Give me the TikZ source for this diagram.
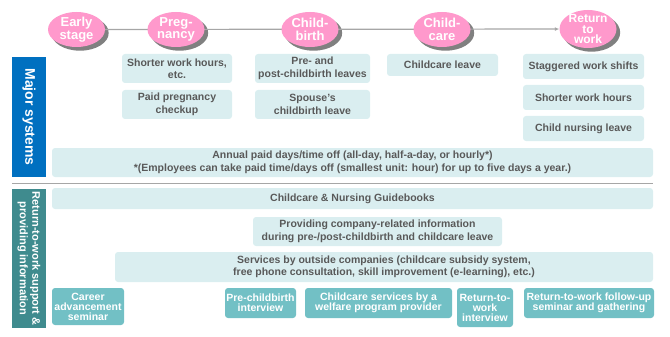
\documentclass[tikz,border=0pt]{standalone}
\usepackage{fontspec}
\setmainfont{Liberation Sans}
\usetikzlibrary{arrows.meta,backgrounds,calc,shapes.geometric}
\definecolor{stagepink}{HTML}{FF99CC}
\definecolor{lightbox}{HTML}{DAEEF0}
\definecolor{darkbox}{HTML}{72C0C5}
\definecolor{majorblue}{HTML}{0070C0}
\definecolor{supportteal}{HTML}{3F8B8E}
\definecolor{textgray}{HTML}{595959}
\definecolor{linegray}{HTML}{A6A6A6}
\definecolor{shadowgray}{HTML}{808080}

\begin{document}
\begin{tikzpicture}[x=1pt, y=-1pt,
    stage/.style={ellipse, fill=stagepink, text=white, inner sep=-3pt, minimum width=57pt, minimum height=35pt, align=center,
        font=\fontsize{13}{12.5}\selectfont\bfseries},
    sysbox/.style={fill=lightbox, rounded corners=3pt, text=textgray, inner sep=0pt, align=center,
        font=\fontsize{10.5}{12.5}\selectfont\bfseries},
    eventbox/.style={fill=darkbox, rounded corners=3pt, text=white, inner sep=0pt, align=center,
        font=\fontsize{10.5}{10}\selectfont\bfseries},
    sidebar/.style={text=white, inner sep=0pt, align=center, rotate=-90, minimum height=34pt}]
    \useasboundingbox (0,0) rectangle (670,337);

    % life stages
    \node[stage] (early) at (76.5,29.5) {Early\\stage};
    \node[stage] (preg) at (176,29.5) {Preg-\\nancy};
    \node[stage] (birth) at (310,29.5) {Child-\\birth};
    \node[stage] (care) at (442,29.5) {Child-\\care};
    \node[stage, minimum height=38pt, font=\fontsize{12}{10.5}\selectfont\bfseries] (ret) at (588,29) {Return\\to\\work};
    \begin{scope}[on background layer]
        \foreach \stagename in {early,preg,birth,care,ret}
            \fill[shadowgray] let \p1=($(\stagename.east)-(\stagename.center)$), \p2=($(\stagename.north)-(\stagename.center)$) in
                ([xshift=3.5pt, yshift=-3.5pt]\stagename.center) ellipse [x radius=\x1, y radius={abs(\y2)}];
        \draw[linegray, line width=1.2pt, -{Latex[length=4.5pt, width=4pt]}] (early) -- (ret);
    \end{scope}

    % major systems
    \node[sidebar, fill=majorblue, minimum width=120pt, font=\fontsize{14}{14}\selectfont\bfseries] (major) at (29,117) {Major systems};
    \node[sysbox, minimum width=110pt, minimum height=29pt] (shortpreg) at (177,68.5) {Shorter work hours,\\etc.};
    \node[sysbox, minimum width=110pt, minimum height=29pt] (checkup) at (177,104.5) {Paid pregnancy\\checkup};
    \node[sysbox, minimum width=115pt, minimum height=29pt] (birthleave) at (312.5,68.5) {Pre- and\\post-childbirth leaves};
    \node[sysbox, minimum width=115pt, minimum height=29pt] (spouse) at (312.5,104.5) {Spouse’s\\childbirth leave};
    \node[sysbox, minimum width=111pt, minimum height=22pt] (careleave) at (442.5,65) {Childcare leave};
    \node[sysbox, minimum width=121pt, minimum height=25pt] (shifts) at (583.5,66.5) {Staggered work shifts};
    \node[sysbox, minimum width=121pt, minimum height=25pt] (shorthours) at (583.5,97.5) {Shorter work hours};
    \node[sysbox, minimum width=121pt, minimum height=25pt] (nursing) at (583.5,128.5) {Child nursing leave};
    \node[sysbox, minimum width=601pt, minimum height=29pt] (annual) at (352.5,162.5) {Annual paid days/time off (all-day, half-a-day, or hourly*)\\*(Employees can take paid time/days off (smallest unit: hour) for up to five days a year.)};

    \draw[linegray, line width=1pt] (12,183) -- (653,183);

    % return-to-work support
    \node[sidebar, fill=supportteal, minimum width=139pt, font=\fontsize{11}{12.5}\selectfont\bfseries] (support) at (29,258.5) {Return-to-work support \&\\providing information};
    \node[sysbox, minimum width=601pt, minimum height=21pt] (guide) at (352.5,198.5) {Childcare \& Nursing Guidebooks};
    \node[sysbox, minimum width=249pt, minimum height=29pt] (info) at (377.5,231.5) {Providing company-related information\\during pre-/post-childbirth and childcare leave};
    \node[sysbox, minimum width=538pt, minimum height=30pt] (outside) at (384,267) {Services by outside companies (childcare subsidy system,\\free phone consultation, skill improvement (e-learning), etc.)};
    \node[eventbox, minimum width=72pt, minimum height=37pt] (career) at (88,306.5) {Career\\advancement\\seminar};
    \node[eventbox, minimum width=71pt, minimum height=30pt] (preint) at (260.5,303) {Pre-childbirth\\interview};
    \node[eventbox, minimum width=147pt, minimum height=30pt] (welfare) at (378.5,303) {Childcare services by a\\welfare program provider};
    \node[eventbox, minimum width=56pt, minimum height=39pt] (retint) at (485,307.5) {Return-to-\\work\\interview};
    \node[eventbox, minimum width=130pt, minimum height=30pt] (followup) at (589,303) {Return-to-work follow-up\\seminar and gathering};
\end{tikzpicture}
\end{document}
